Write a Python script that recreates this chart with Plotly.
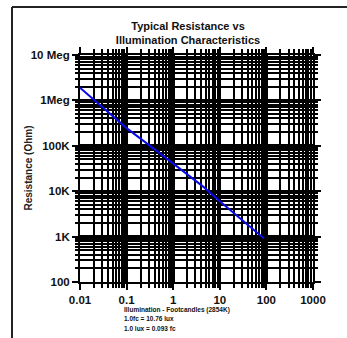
import plotly.graph_objects as go

# Photocell resistance vs illumination (footcandles, 2854 K source)
illumination_fc = [0.01, 0.1, 0.52, 1, 4.4, 10, 89]
resistance_ohm = [1.9e6, 2.45e5, 6.8e4, 4.0e4, 1.26e4, 6.0e3, 9.1e2]

y_tick_vals = [1e2, 1e3, 1e4, 1e5, 1e6, 1e7]
y_tick_text = ["100", "1K", "10K", "100K", "1Meg", "10 Meg"]
x_tick_vals = [0.01, 0.1, 1, 10, 100, 1000]
x_tick_text = ["0.01", "0.1", "1", "10", "100", "1000"]

x_decades = [-2, -1, 0, 1, 2]
y_decades = [2, 3, 4, 5, 6]
digits = [2, 3, 4, 5, 6, 7, 8, 9]
x_minor = [k * 10 ** d for d in x_decades for k in digits]
y_minor = [k * 10 ** d for d in y_decades for k in digits]

W, H = 347, 338
L, R, T, B = 80, 34, 55, 56
pw, ph = W - L - R, H - T - B


def px_x(p):
    return (p - L) / pw


def px_y(p):
    return (H - B - p) / ph


FONT = "Liberation Sans, Arial, sans-serif"

fig = go.Figure()
fig.add_trace(go.Scatter(
    x=illumination_fc, y=resistance_ohm, mode="lines",
    line=dict(color="#0a0ae6", width=2), showlegend=False,
))

axis_common = dict(
    type="log", tickmode="array", showgrid=True, gridcolor="black",
    gridwidth=2.5, showline=True, linecolor="black", linewidth=2,
    mirror="allticks", ticks="outside", ticklen=6, tickwidth=2,
    tickcolor="black", automargin=False, zeroline=False,
    tickfont=dict(family=FONT, size=11.5, color="#111", weight="bold"),
)

fig.update_xaxes(
    **axis_common, range=[-2, 3], tickvals=x_tick_vals, ticktext=x_tick_text,
    minor=dict(tickmode="array", tickvals=x_minor, showgrid=True,
               gridcolor="black", gridwidth=2, ticks="outside",
               ticklen=4, tickwidth=2, tickcolor="black"),
)
fig.update_yaxes(
    **axis_common, range=[2, 7], tickvals=y_tick_vals, ticktext=y_tick_text,
    minor=dict(tickmode="array", tickvals=y_minor, showgrid=True,
               gridcolor="black", gridwidth=2, ticks="outside",
               ticklen=3, tickwidth=2, tickcolor="black"),
)

note_font = dict(family=FONT, size=6.5, color="#111", weight="bold")
annotations = [
    dict(text="Resistance (Ohm)", x=px_x(28), y=0.5, textangle=-90,
         font=dict(family=FONT, size=10, color="#222", weight="bold")),
    dict(text="Illumination - Footcandles (2854K)", x=px_x(122), y=px_y(310),
         xanchor="left", font=note_font),
    dict(text="1.0fc = 10.76 lux", x=px_x(122), y=px_y(318.5),
         xanchor="left", font=note_font),
    dict(text="1.0 lux = 0.093 fc", x=px_x(122), y=px_y(328),
         xanchor="left", font=note_font),
]
for a in annotations:
    a.update(xref="paper", yref="paper", showarrow=False, yanchor="middle")
    a.setdefault("xanchor", "center")

shapes = [
    dict(type="line", xref="paper", yref="paper", x0=px_x(12), x1=px_x(12),
         y0=px_y(7), y1=px_y(345), line=dict(color="#222", width=2)),
    dict(type="line", xref="paper", yref="paper", x0=px_x(12), x1=px_x(350),
         y0=px_y(7), y1=px_y(7), line=dict(color="#222", width=2)),
]

fig.update_layout(
    width=W, height=H,
    margin=dict(l=L, r=R, t=T, b=B, autoexpand=False),
    paper_bgcolor="white", plot_bgcolor="white",
    title=dict(text="Typical Resistance vs<br>Illumination Characteristics",
               x=188 / W, xanchor="center", y=1 - 30 / H, yanchor="middle",
               font=dict(family=FONT, size=11, color="#111", weight="bold")),
    annotations=annotations, shapes=shapes,
)

fig.write_html("out.html")
